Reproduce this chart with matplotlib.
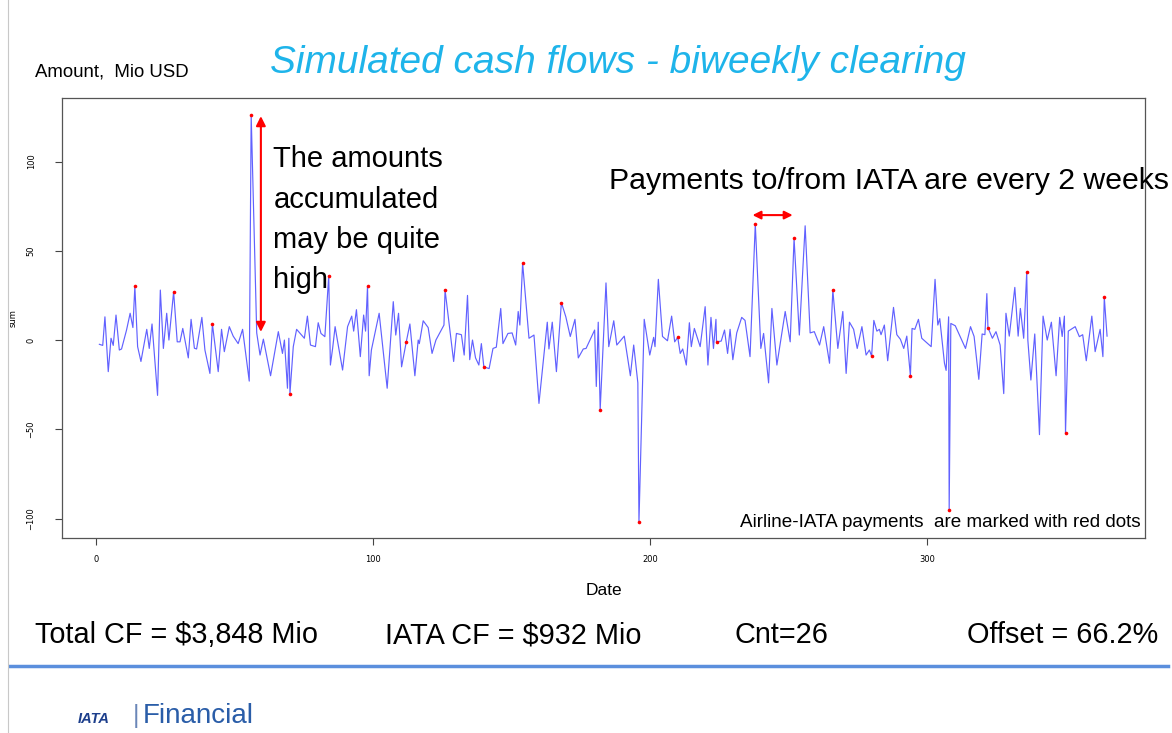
import matplotlib
matplotlib.use("Agg")
import matplotlib.pyplot as plt
from matplotlib.lines import Line2D

# daily net cash flow (Mio USD), vertices
day = [1.2, 2.4, 3.2, 4.4, 5.4, 6.2, 7.2, 8.4, 9.2, 11, 12.3, 13.3, 14, 15, 16.2, 18.3, 19.2, 20.2,
       22.2, 23.2, 24.3, 25.5, 26.3, 28, 29.3, 30.3, 31.3, 33.3, 34.3, 35.5, 36.3, 38.2, 39.3, 41.1,
       42, 44.1, 45.3, 46.3, 48.1, 49.5, 51.3, 52.9, 55.3, 56, 58, 59.2, 60.4, 63, 65.8, 67.3, 68,
       69.1, 69.6, 70, 71.2, 72.4, 75.2, 76.3, 77.4, 79.2, 80.2, 81.2, 82.6, 84, 84.6, 85.4, 86.3,
       87, 89, 90.8, 92.3, 93, 94, 95.4, 96.6, 97.3, 98, 98.6, 99.4, 102.2, 105.1, 107.3, 108.2,
       109.2, 110.3, 112, 113.3, 115.1, 116.3, 116.7, 118.1, 119.9, 121.3, 122.7, 125.6, 126, 129.1,
       130.1, 131.9, 132.9, 134.1, 134.9, 135.9, 137, 138.2, 139.1, 140, 141.9, 143.3, 144.5, 146.1,
       146.9, 148.7, 150.2, 151.5, 152.4, 153, 154, 156.3, 158.1, 159.9, 162.9, 163.5, 164.7, 166.2,
       168, 169.6, 171.2, 172.9, 174.1, 175.9, 176.9, 180, 180.6, 181.3, 182, 184.1, 185.1, 186.9,
       188, 190.7, 192.9, 194.1, 195.6, 196, 197.9, 199.9, 201.3, 201.8, 203, 204.5, 206.3, 207.8,
       208.9, 210, 210.9, 211.8, 213.1, 214.2, 214.9, 216, 218.1, 219.9, 220.9, 222, 222.9, 223.8,
       224, 225.7, 226.9, 228, 228.9, 229.9, 231.3, 233.1, 234.3, 236.1, 238, 240, 241, 242.8, 244,
       245.8, 248.8, 250.6, 252, 253.9, 256, 257.8, 259.3, 261.2, 262.7, 264.8, 266, 267.8, 269.6,
       270.8, 272, 273.5, 274.8, 276.5, 278, 279.2, 280, 280.8, 281.9, 282.8, 283.4, 284.6, 285.8,
       287.9, 289.1, 290.4, 291.6, 292.7, 294, 294.6, 295.6, 296.9, 298.1, 301.5, 302.9, 303.9,
       304.6, 306.3, 306.9, 307.8, 308, 308.6, 310.2, 313.9, 315.7, 317, 318.7, 319.9, 320.9, 321.6,
       322, 323.6, 324.9, 326.4, 327.7, 328.5, 329.7, 331.7, 332.9, 333.7, 334.9, 336, 336.4, 337.5,
       338.9, 340.6, 341.9, 343.4, 344.9, 346.6, 347.9, 348.8, 349.6, 350, 351, 353.5, 355, 356.2,
       357.5, 359.5, 360.7, 362.5, 363.5, 364, 365]
amount = [-2.4, -3, 13, -17.7, 1, -3, 14, -5.6, -5, 5.6, 15, 7, 30, -3.7, -12, 6, -4.7, 9,
          -31, 28, -4.7, 15, 0, 27, -1, -1, 6.5, -10, 11.6, -4.6, -5, 12.7, -5.6, -18.7,
          9, -17.7, 6, -6.5, 7.5, 2.2, -2, 6, -23, 126, 4, -8.4, 0.5, -20, 4.7, -7.5, 0,
          -27, 1, -30, -3.7, 6, 1, 13.4, -2.8, -3.7, 9.7, 3.7, 1.9, 36, -14, -4.7, 7.5,
          1, -16.8, 7.5, 13.4, 5, 17, -9.3, 14, 5, 30, -20, -5.6, 15, -27, 21.5, 2.8,
          15, -15, -1, 9, -20, 0, -2, 10.8, 7, -7.5, 0, 8.4, 28, -12,
          3.7, 3, -8.4, 25, -11, 0, -10, -14, -2, -15, -16, -4.7, -4, 17.7,
          -2, 3.7, 4, -2.8, 16, 8.4, 43, 1, 2.8, -35.5, 10, -5, 10, -17.7,
          21, 13, 2, 11.6, -10, -5, -4.7, 5.6, -26, 10, -39, 32, -3.7, 10.8,
          -2.8, 2.2, -20, -2.8, -24, -102, 11.6, -8.4, 1.5, -3.7, 34, 2, -0.4, 13.4,
          -1, 1.5, -7.5, -5, -14, 9.7, -3.7, 6.5, -3.7, 18.7, -14, 12.7, -4.7, 11.6,
          -1, -0.6, 5.6, -7.5, 6, -11, 4, 12.7, 11, -9.3, 65, -4.7, 3.7, -24, 17.7,
          -14, 16, -1, 57, 2.8, 64, 4, 4.7, -2.8, 7.5, -13, 28, -4.7, 16,
          -18.7, 10, 6, -4.7, 7.5, -8.4, -5.6, -9, 11, 5, 6, 3, 8.4, -11.6,
          18.3, 3, 0.4, -4.7, 2.2, -20, 6.5, 6, 11.6, 1, -3.7, 34, 8.4,
          12, -13, -17, 13, -95, 9.3, 8, -4.7, 7.5, 2, -22, 3.4, 3, 26,
          7, 1, 4.7, -2.8, -30, 15, 2.2, 29.5, 2.2, 17.7, 1, 38, 0, -22.4,
          3.4, -53, 13.4, 0, 10, -20, 12.7, 2, 13.4, -52, 5, 7.5, 1.9, 3,
          -11.6, 13.4, -6.5, 6, -9.3, 24, 2.2]

# airline-IATA settlement days (every 2 weeks) and amounts
iata_day = [14, 28, 42, 56, 70, 84, 98, 112, 126, 140, 154, 168, 182, 196, 210, 224, 238,
            252, 266, 280, 294, 308, 322, 336, 350, 364]
iata_amt = [30, 27, 9, 126, -30, 36, 30, -1, 28, -15, 43, 21, -39, -102, 1.5, -1, 65,
            57, 28, -9, -20, -95, 7, 38, -52, 24]

x_ticks = [0, 100, 200, 300]
y_ticks = [-100, -50, 0, 50, 100]

W, H = 1172, 733
fig = plt.figure(figsize=(W / 100, H / 100), dpi=100)
fig.patch.set_facecolor("white")


def fx(px):
    return px / W


def fy(py):
    return 1 - py / H


FONT = "Liberation Sans"

ax = fig.add_axes([fx(62), fy(538), fx(1145) - fx(62), fy(98) - fy(538)])
ax.plot(day, amount, color=(0.38, 0.38, 1.0), lw=0.85)
ax.plot(iata_day, iata_amt, "o", color="red", ms=2.6, mec="none")
ax.set_xlim(-12.3, 378.7)
ax.set_ylim(-110.9, 135.6)
ax.set_xticks(x_ticks)
ax.set_yticks(y_ticks)
ax.tick_params(labelsize=6, length=5, color="#444444")
ax.tick_params(axis="x", pad=7)
ax.tick_params(axis="y", pad=14)
for lab in ax.get_yticklabels():
    lab.set_rotation(90)
    lab.set_va("center")
for s in ax.spines.values():
    s.set_color("#555555")
    s.set_linewidth(0.9)
ax.set_xlabel("Date", fontsize=12.5, labelpad=14, family=FONT)
ax.set_ylabel("sum", fontsize=6, va="center")
ax.yaxis.set_label_coords((13 - 62) / 1083, 0.5)

# annotations inside the plot
ax.annotate("", xy=(59.5, 3), xytext=(59.5, 127),
            arrowprops=dict(arrowstyle="<|-|>", color="red", lw=1.5, mutation_scale=14))
ax.text(64, 109, "The amounts\naccumulated\nmay be quite\nhigh", fontsize=21,
        family=FONT, va="top", ha="left", linespacing=1.55)
ax.text(387.5, 89, "Payments to/from IATA are every 2 weeks", fontsize=21.8,
        family=FONT, va="center", ha="right", clip_on=False)
ax.annotate("", xy=(252.5, 70), xytext=(236, 70),
            arrowprops=dict(arrowstyle="<|-|>", color="red", lw=1.5, mutation_scale=12))
ax.text(377.3, -102, "Airline-IATA payments  are marked with red dots", fontsize=13.6,
        family=FONT, va="center", ha="right")

# slide text
fig.text(fx(618), fy(63), "Simulated cash flows - biweekly clearing", fontsize=28,
         style="italic", color="#1EB4EA", family=FONT, ha="center", va="center")
fig.text(fx(35), fy(72), "Amount,  Mio USD", fontsize=13.4, family=FONT,
         ha="left", va="center")

for px, txt, ha in [(35, "Total CF = $3,848 Mio", "left"), (385, "IATA CF = $932 Mio", "left"),
                    (735, "Cnt=26", "left"), (1158, "Offset = 66.2%", "right")]:
    fig.text(fx(px), fy(635), txt, fontsize=20.8, family=FONT, ha=ha, va="center")

fig.add_artist(Line2D([fx(10), fx(1168)], [fy(666), fy(666)], color="#5B8FDD", lw=2.5))
fig.add_artist(Line2D([fx(8), fx(8)], [0, 1], color="#C8C8C8", lw=0.8))

# footer logo (text only)
fig.text(fx(78), fy(719), "IATA", fontsize=10.5, weight="bold", style="italic",
         color="#1D3F8C", family=FONT, ha="left", va="center")
fig.text(fx(133), fy(716), "|", fontsize=18, color="#6A86B8", family=FONT,
         ha="left", va="center")
fig.text(fx(143), fy(716), "Financial", fontsize=20, color="#2A5DA8", family=FONT,
         ha="left", va="center")

fig.savefig("out.png", dpi=100)
